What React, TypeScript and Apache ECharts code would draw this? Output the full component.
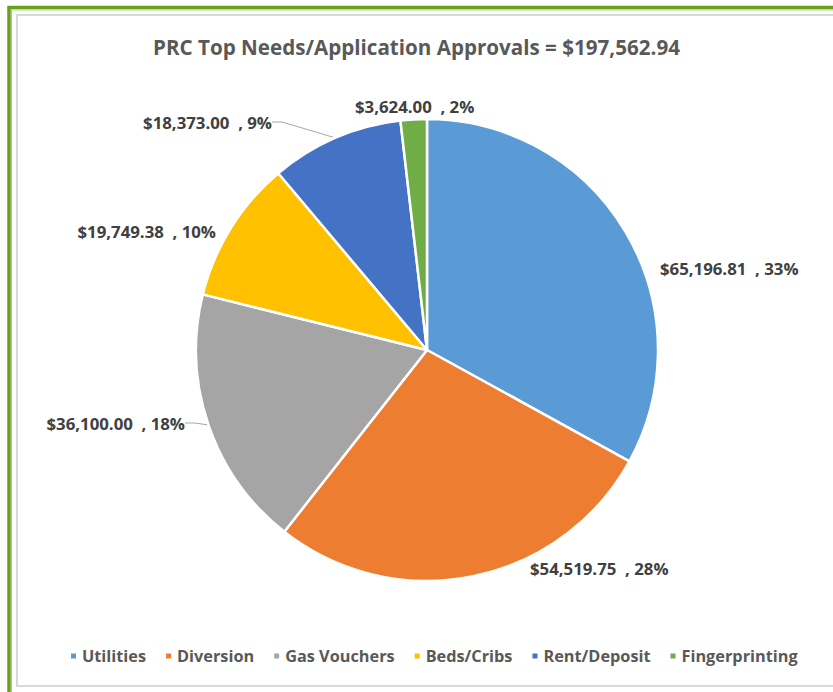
import React, { useEffect, useRef } from "react";
import * as echarts from "echarts";

const categories = ["Utilities", "Diversion", "Gas Vouchers", "Beds/Cribs", "Rent/Deposit", "Fingerprinting"];
const amounts = [65196.81, 54519.75, 36100.0, 19749.38, 18373.0, 3624.0];
const colors = ["#5B9BD5", "#ED7D31", "#A5A5A5", "#FFC000", "#4472C4", "#70AD47"];
const titleText = "PRC Top Needs/Application Approvals = $197,562.94";

// label placement (layout only)
const labelPlace: { x: number; y: number; align: string; line: boolean }[] = [
  { x: 660, y: 268, align: "left", line: false },
  { x: 530, y: 568, align: "left", line: false },
  { x: 185, y: 423, align: "right", line: true },
  { x: 216, y: 231, align: "right", line: false },
  { x: 272, y: 122, align: "right", line: true },
  { x: 355, y: 106, align: "left", line: false },
];

const fmtMoney = (v: number) =>
  "$" + v.toLocaleString("en-US", { minimumFractionDigits: 2, maximumFractionDigits: 2 });

export default function App() {
  const ref = useRef<HTMLDivElement>(null);
  useEffect(() => {
    document.body.style.margin = "0";
    const chart = echarts.init(ref.current!, null, { renderer: "svg" });
    const font = "'Open Sans', sans-serif";
    chart.setOption({
      animation: false,
      color: colors,
      title: {
        text: titleText,
        left: "center",
        top: 31,
        textStyle: { fontFamily: font, fontWeight: "bold", fontSize: 20.6, color: "#595959" },
      },
      legend: {
        data: categories,
        bottom: 23,
        left: 64,
        icon: "rect",
        itemWidth: 7,
        itemHeight: 7,
        itemGap: 18,
        textStyle: { fontFamily: font, fontWeight: "bold", fontSize: 16.3, color: "#595959" },
      },
      graphic: [
        { type: "rect", shape: { x: 9, y: 7.5, width: 900, height: 800 }, style: { fill: "none", stroke: "#6A9F1A", lineWidth: 3.5 } },
        { type: "rect", shape: { x: 11.5, y: 10, width: 900, height: 800 }, style: { fill: "none", stroke: "#A9CF7A", lineWidth: 1 } },
        { type: "rect", shape: { x: 17, y: 15, width: 900, height: 671 }, style: { fill: "none", stroke: "#D9D9D9", lineWidth: 2 } },
      ],
      series: [
        {
          type: "pie",
          center: [427, 350],
          radius: 231,
          startAngle: 90,
          clockwise: true,
          data: categories.map((c, i) => ({
            name: c,
            value: amounts[i],
            labelLine: { show: labelPlace[i].line },
          })),
          itemStyle: { borderColor: "#ffffff", borderWidth: 2.5 },
          label: {
            show: true,
            position: "outside",
            formatter: (p: any) => `${fmtMoney(p.value)}  , ${Math.round(p.percent)}%`,
            fontFamily: font,
            fontWeight: "bold",
            fontSize: 16.8,
            color: "#404040",
          },
          labelLine: { show: true, length: 8, length2: 10, lineStyle: { color: "#A6A6A6", width: 1 } },
          labelLayout: (p: any) => {
            const lp = labelPlace[p.dataIndex];
            return { x: lp.x, y: lp.y, align: lp.align, verticalAlign: "middle" };
          },
        },
      ],
    });
    return () => chart.dispose();
  }, []);
  return <div ref={ref} style={{ width: 833, height: 692 }} />;
}
